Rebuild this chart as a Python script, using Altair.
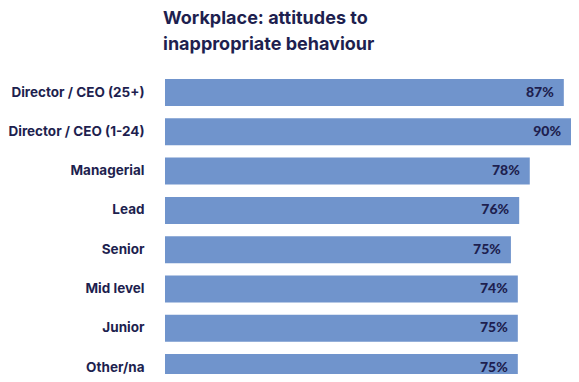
import altair as alt
import pandas as pd

categories = ["Director / CEO (25+)", "Director / CEO (1-24)", "Managerial", "Lead",
              "Senior", "Mid level", "Junior", "Other/na"]
labels = ["87%", "90%", "78%", "76%", "75%", "74%", "75%", "75%"]
# bar lengths as drawn in the picture (percent units)
bar_values = [86.7, 91.3, 79.3, 77.0, 75.2, 76.7, 76.7, 76.7]

X_MAX = 406 / 4.6

df = pd.DataFrame({"cat": categories, "label": labels, "value": bar_values})
df["label_x"] = df["value"].clip(upper=X_MAX)

NAVY = "#1e1f4f"
BAR = "#7094cc"

y_enc = alt.Y("cat:N", sort=categories, title=None,
              scale=alt.Scale(paddingInner=0.313, paddingOuter=0.1565, range=[0, 314.4]),
              axis=alt.Axis(ticks=False, tickSize=0, domain=False, labelPadding=21,
                            labelFont="Inter", labelFontSize=13.5, labelFontWeight="bold",
                            labelColor=NAVY, labelLimit=300))
x_scale = alt.Scale(domain=[0, X_MAX], nice=False, clamp=False)

bars = alt.Chart(df).mark_bar(color=BAR).encode(
    x=alt.X("value:Q", title=None, scale=x_scale, axis=None), y=y_enc)
text = alt.Chart(df).mark_text(align="right", baseline="middle", dx=-10, font="Lato",
                               fontSize=14, fontWeight=900, color=NAVY).encode(
    x=alt.X("label_x:Q", title=None, scale=x_scale, axis=None), y=y_enc, text="label:N")

chart = (bars + text).properties(
    width=406, height=301.15,
    autosize=alt.AutoSizeParams(type="none"),
    padding={"left": 157, "top": 64.85, "right": 0, "bottom": 0},
    title=alt.TitleParams(["Workplace: attitudes to", "inappropriate behaviour"],
                          anchor="start", frame="group", font="Inter", fontSize=18,
                          fontWeight="bold", color=NAVY, lineHeight=26, offset=19, dx=-2),
).configure_view(stroke=None)

chart.save("out.html", embed_options={"renderer": "svg", "actions": False})
